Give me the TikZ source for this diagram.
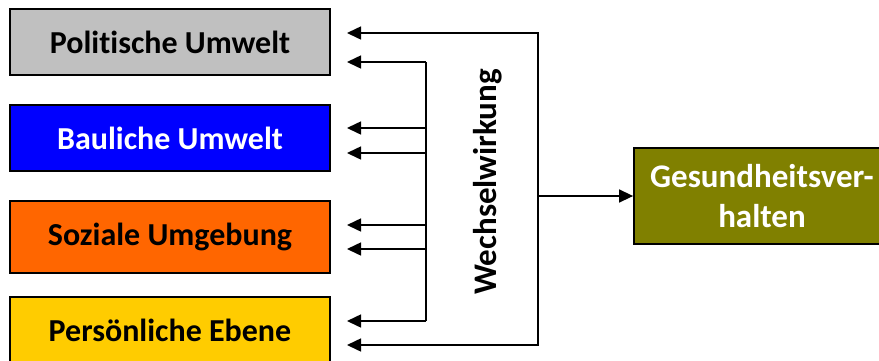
\documentclass[tikz,border=0pt]{standalone}
\usepackage{fontspec}
\setmainfont{Carlito}[Ligatures=NoCommon]
\usetikzlibrary{arrows.meta}
\definecolor{polgray}{HTML}{C0C0C0}
\definecolor{baublue}{HTML}{0000FF}
\definecolor{sozorange}{HTML}{FF6600}
\definecolor{peryellow}{HTML}{FFCC00}
\definecolor{gesolive}{HTML}{808000}
\tikzset{
  ebene/.style={draw, line width=1.8pt, minimum width=320pt, minimum height=66pt,
    font=\fontsize{32}{40}\selectfont\bfseries, inner sep=0pt},
  pfeil/.style={line width=1.5pt, -{Triangle[length=14pt,width=13pt]}},
  linie/.style={line width=1.5pt}
}
\begin{document}
\begin{tikzpicture}[x=1pt,y=-1pt]
\useasboundingbox (0,0) rectangle (879,360);
% Ebenen
\node[ebene, fill=polgray] (pol) at (170,42) {Politische Umwelt};
\node[ebene, fill=baublue, text=white] (bau) at (170,138) {Bauliche Umwelt};
\node[ebene, fill=sozorange, minimum height=72pt] (soz) at (170,237) {Soziale Umgebung};
\node[ebene, fill=peryellow] (per) at (170,330) {Persönliche Ebene};
\node[ebene, fill=gesolive, text=white, minimum width=256pt, minimum height=96pt,
  align=center, font=\fontsize{33}{40}\selectfont\bfseries] (ges) at (762,196) {Gesundheitsver-\\halten};
\node[rotate=90, font=\fontsize{33}{40}\selectfont\bfseries] (ww) at (488,182) {Wechselwirkung};
% Innere Schleife
\coordinate (in-top) at (426,62);
\coordinate (in-bot) at (426,321);
\draw[linie] (in-top) -- (in-bot);
\foreach \y in {62,128,153,225,249,321}
  \draw[pfeil] (426,\y) -- (347,\y);
% Aeussere Schleife
\coordinate (hub) at (538,196);
\coordinate (pol-a) at (347,33);
\coordinate (per-b) at (347,345);
\draw[pfeil] (hub) |- (pol-a);
\draw[pfeil] (hub) |- (per-b);
\draw[pfeil] (hub) -- (ges.west);
\end{tikzpicture}
\end{document}
